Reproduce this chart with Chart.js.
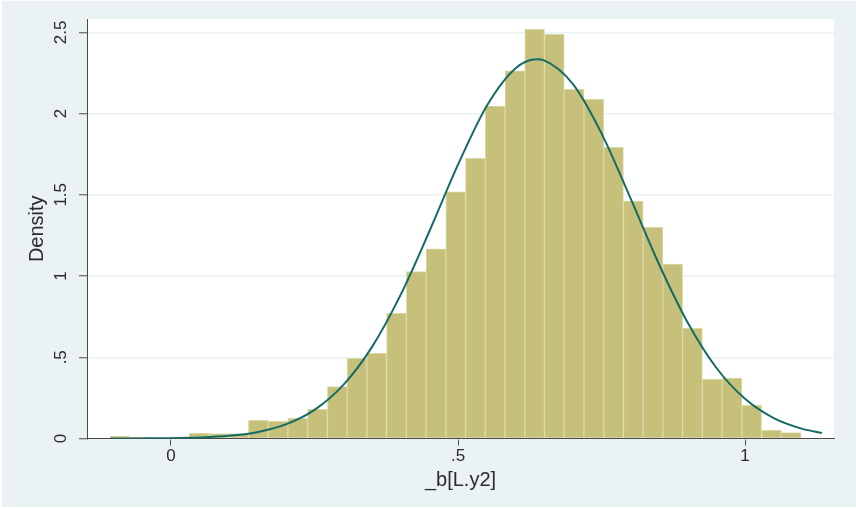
<!DOCTYPE html>
<html>
<head>
<meta charset="utf-8">
<script src="https://cdn.jsdelivr.net/npm/chart.js@4.4.0/dist/chart.umd.min.js"></script>
<style>
    body { margin: 0; background: #ffffff; }
    #area { width: 856px; height: 508px; }
</style>
</head>
<body>
<div id="area"><canvas id="graficoHistograma" width="856" height="508"></canvas></div>
<script>
// Centros das classes do histograma e densidade de cada classe
const centrosClasses = [-0.0885, -0.0541, -0.0197, 0.0146, 0.0490, 0.0834, 0.1178, 0.1521, 0.1865, 0.2209,
    0.2553, 0.2897, 0.3240, 0.3584, 0.3928, 0.4272, 0.4616, 0.4960, 0.5303, 0.5647,
    0.5991, 0.6335, 0.6678, 0.7022, 0.7366, 0.7710, 0.8054, 0.8397, 0.8741, 0.9085,
    0.9429, 0.9773, 1.0116, 1.0460, 1.0804];
const densidades = [0.013, 0.007, 0, 0.011, 0.033, 0.031, 0.031, 0.112, 0.106, 0.124,
    0.180, 0.319, 0.493, 0.524, 0.770, 1.027, 1.168, 1.519, 1.724, 2.046,
    2.263, 2.518, 2.487, 2.149, 2.087, 1.792, 1.462, 1.300, 1.074, 0.678,
    0.364, 0.372, 0.204, 0.052, 0.036];

// Curva normal sobreposta
const curvaX = [-0.1057, -0.05, 0, 0.05, 0.1, 0.15, 0.2, 0.25, 0.3, 0.35, 0.4, 0.45, 0.5, 0.55,
    0.6, 0.6376, 0.65, 0.7, 0.75, 0.8, 0.85, 0.9, 0.95, 1.0, 1.05, 1.1, 1.134];
const curvaY = [0.0002, 0.0007, 0.0021, 0.0062, 0.0162, 0.0391, 0.0866, 0.1762, 0.3288, 0.5625,
    0.8839, 1.2741, 1.6852, 2.0467, 2.2780, 2.334, 2.3278, 2.1827, 1.8782, 1.4828,
    1.0743, 0.7142, 0.4356, 0.2439, 0.1252, 0.0590, 0.0337];

// Marcas dos eixos
const ticksX = [0, 0.5, 1];
const rotulosX = ['0', '.5', '1'];
const ticksY = [0, 0.5, 1, 1.5, 2, 2.5];
const rotulosY = ['0', '.5', '1', '1.5', '2', '2.5'];

const FONTE = '"Liberation Sans", Arial, sans-serif';
const COR_TEXTO = '#2b2b2b';
const COR_EIXO = '#4a4a4a';

// Fundo cinza-azulado com a área do gráfico em branco
const pluginFundo = {
    id: 'fundo',
    beforeDraw(chart) {
        const { ctx, chartArea: a, width, height } = chart;
        ctx.save();
        ctx.fillStyle = '#ffffff';
        ctx.fillRect(0, 0, width, height);
        ctx.fillStyle = '#eaf2f3';
        ctx.fillRect(2, 1, width - 2, height - 2);
        ctx.fillStyle = '#ffffff';
        ctx.fillRect(a.left, a.top, a.right - a.left, a.bottom - a.top);
        ctx.restore();
    }
};

// Rótulos do eixo Y na vertical
const pluginRotulosY = {
    id: 'rotulosY',
    afterDraw(chart) {
        const escala = chart.scales.y;
        const ctx = chart.ctx;
        ctx.save();
        ctx.fillStyle = COR_TEXTO;
        ctx.font = '17px ' + FONTE;
        ctx.textAlign = 'center';
        ctx.textBaseline = 'middle';
        ticksY.forEach((v, i) => {
            ctx.save();
            ctx.translate(escala.left + 61, escala.getPixelForValue(v));
            ctx.rotate(-Math.PI / 2);
            ctx.fillText(rotulosY[i], 0, 0);
            ctx.restore();
        });
        ctx.restore();
    }
};

function criarHistograma() {
    const ctx = document.getElementById('graficoHistograma').getContext('2d');
    new Chart(ctx, {
        type: 'bar',
        data: {
            datasets: [{
                type: 'line',
                data: curvaX.map((x, i) => ({ x: x, y: curvaY[i] })),
                borderColor: '#146b65',
                borderWidth: 2,
                pointRadius: 0,
                fill: false,
                cubicInterpolationMode: 'monotone',
                order: 0
            }, {
                type: 'bar',
                data: centrosClasses.map((x, i) => ({ x: x, y: densidades[i] })),
                backgroundColor: '#c6c07a',
                borderColor: '#dcd8a6',
                borderWidth: 1,
                borderSkipped: 'bottom',
                barPercentage: 1,
                categoryPercentage: 1,
                order: 1
            }]
        },
        options: {
            responsive: false,
            animation: false,
            layout: { padding: { left: 0, right: 22, top: 19, bottom: 0 } },
            plugins: {
                legend: { display: false },
                tooltip: { enabled: false }
            },
            scales: {
                x: {
                    type: 'linear',
                    min: -0.1463,
                    max: 1.155,
                    offset: false,
                    afterBuildTicks: s => { s.ticks = ticksX.map(v => ({ value: v })); },
                    afterFit: s => { s.height = 69.5; },
                    grid: { offset: false, drawOnChartArea: false, color: COR_EIXO, tickLength: 7, lineWidth: 1 },
                    border: { color: COR_EIXO, width: 1 },
                    ticks: {
                        callback: v => rotulosX[ticksX.indexOf(v)],
                        color: COR_TEXTO,
                        font: { family: FONTE, size: 17 },
                        padding: 1,
                        maxRotation: 0
                    },
                    title: {
                        display: true,
                        text: '_b[L.y2]',
                        color: COR_TEXTO,
                        font: { family: FONTE, size: 20 },
                        padding: { top: 0, bottom: 16 }
                    }
                },
                y: {
                    min: 0,
                    max: 2.582,
                    afterBuildTicks: s => { s.ticks = ticksY.map(v => ({ value: v })); },
                    afterFit: s => { s.width = 87; },
                    grid: { color: '#eaf2f3', lineWidth: 1.5, tickColor: COR_EIXO, tickLength: 8, tickWidth: 1 },
                    border: { color: COR_EIXO, width: 1 },
                    ticks: { display: false },
                    title: {
                        display: true,
                        text: 'Density',
                        color: COR_TEXTO,
                        font: { family: FONTE, size: 20 },
                        padding: { top: 25, bottom: 0 }
                    }
                }
            }
        },
        plugins: [pluginFundo, pluginRotulosY]
    });
}

document.addEventListener('DOMContentLoaded', criarHistograma);
</script>
</body>
</html>
